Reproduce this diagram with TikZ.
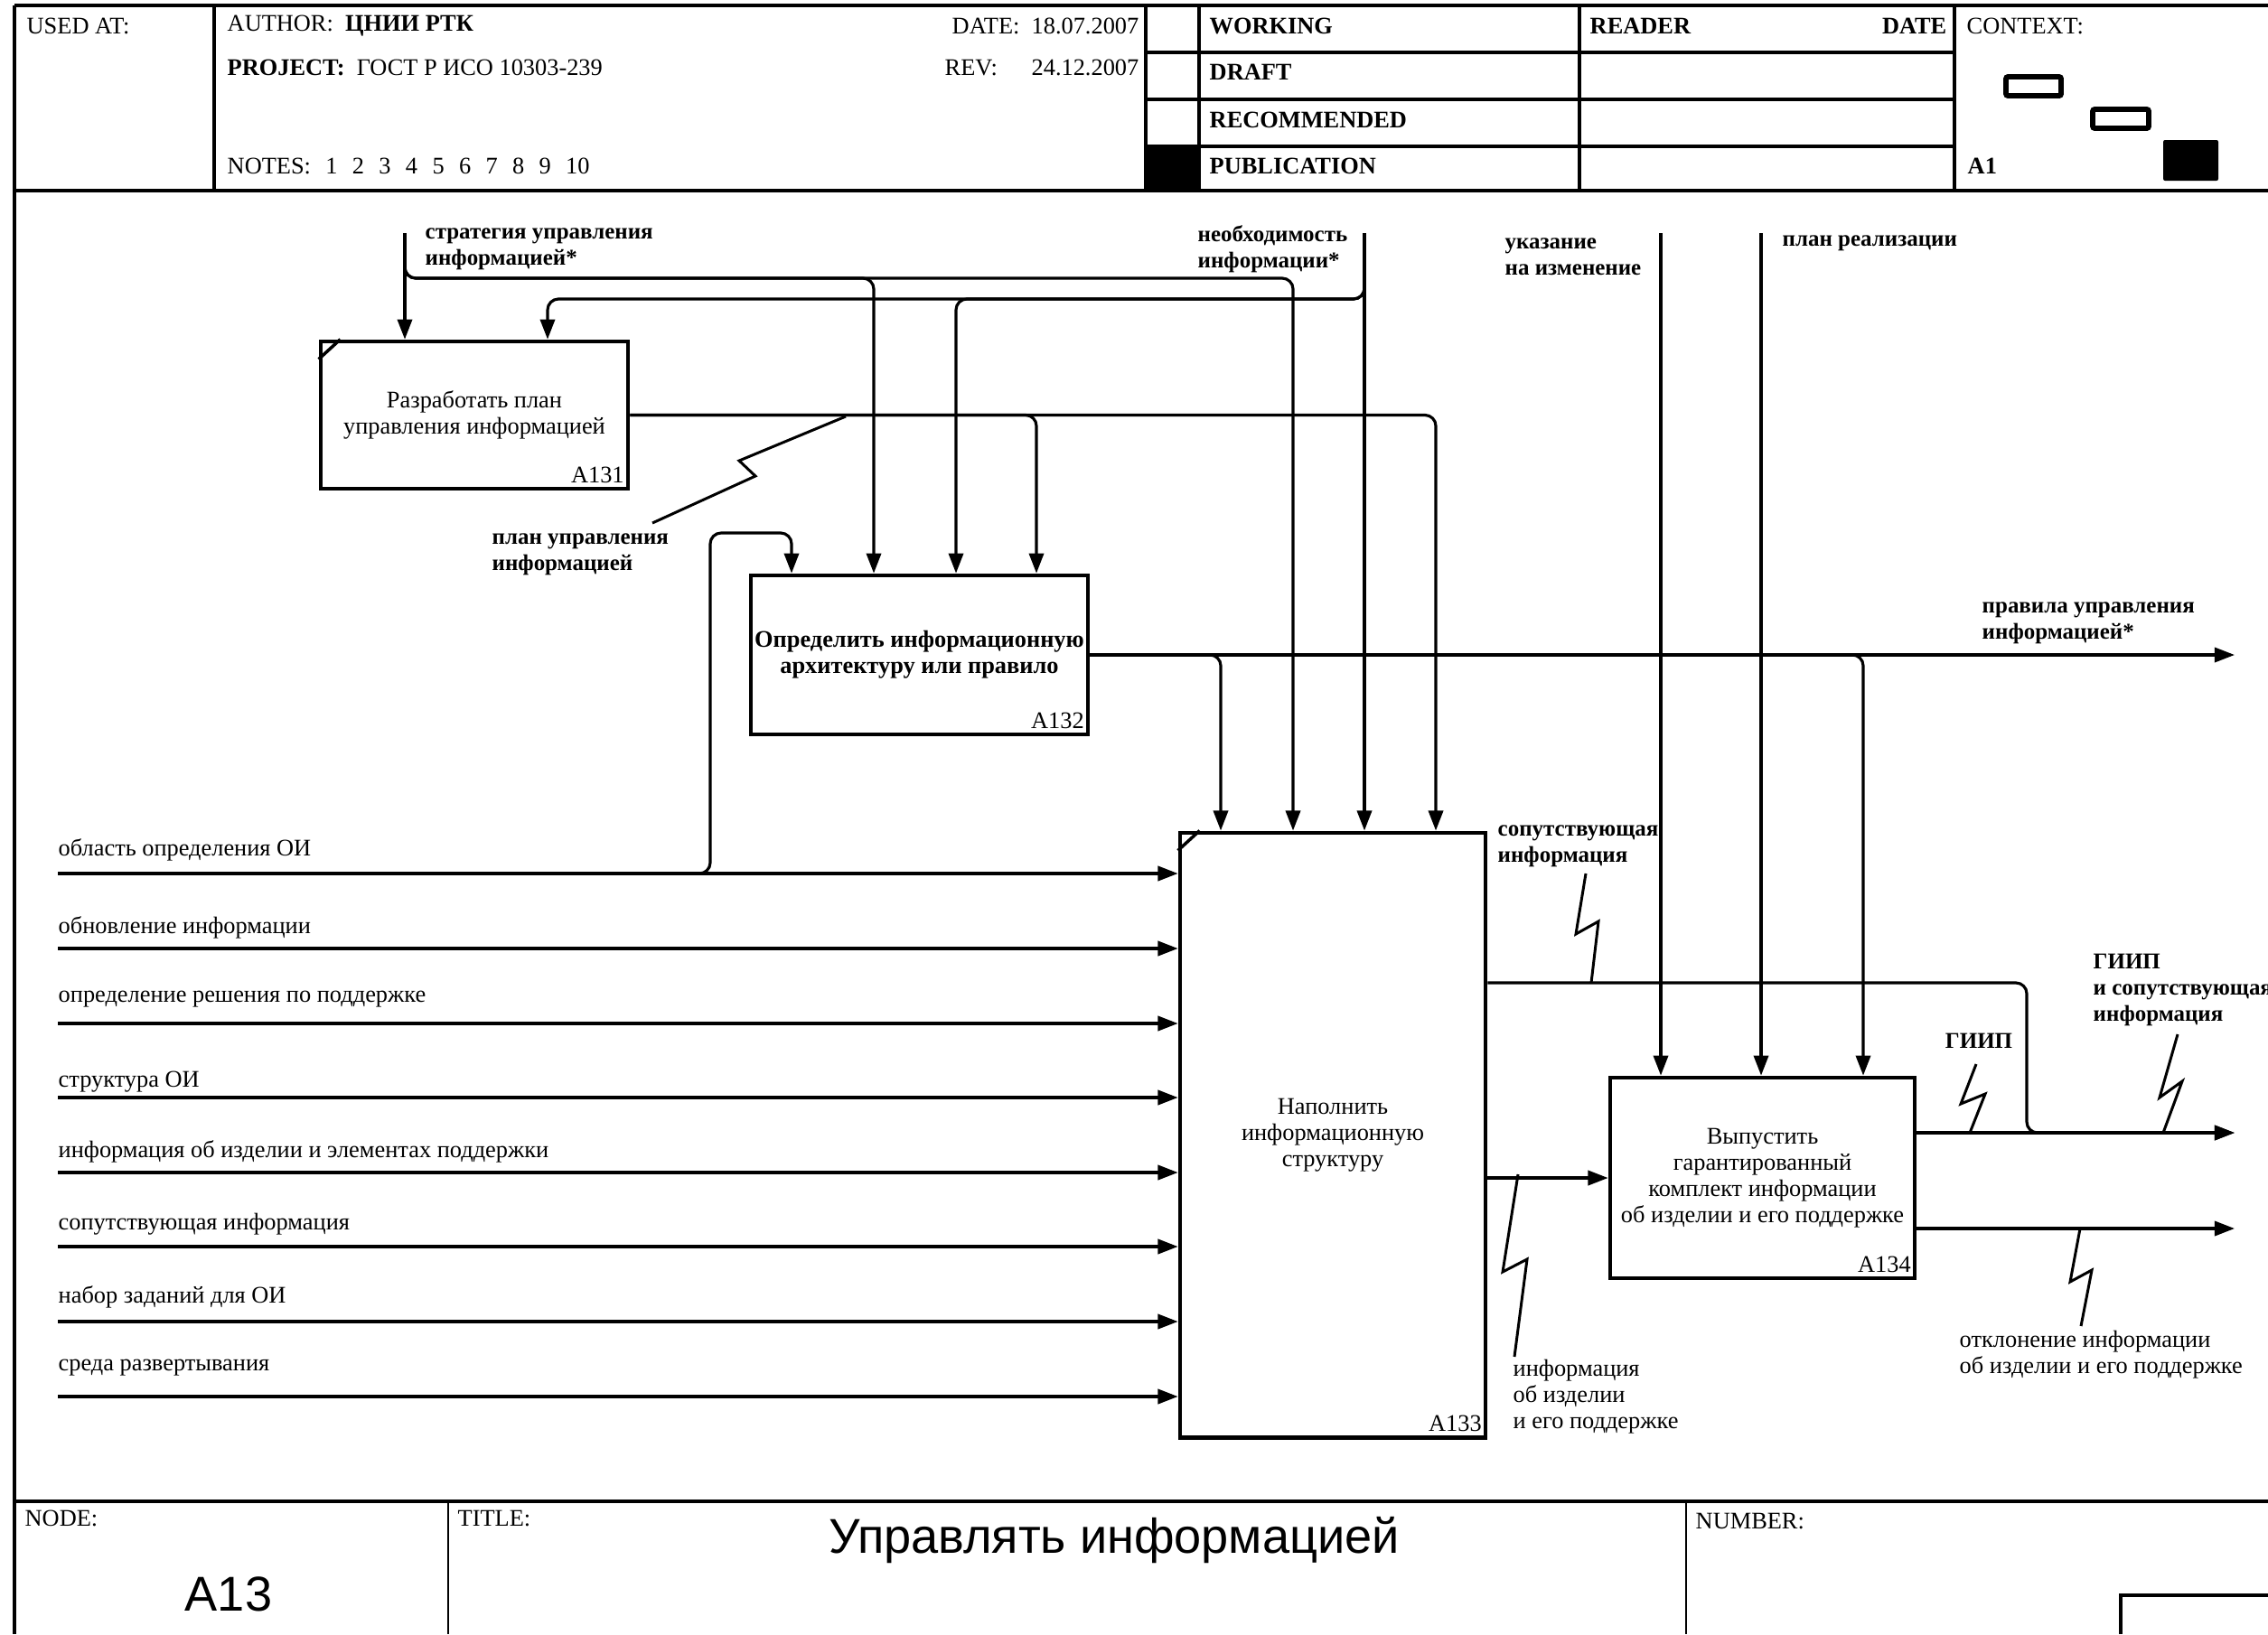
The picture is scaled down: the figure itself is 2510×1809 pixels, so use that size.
\documentclass[tikz,border=0pt]{standalone}
\usepackage{fontspec}
\setmainfont{Liberation Serif}
\newfontfamily\arialf{Liberation Sans}
\usetikzlibrary{arrows.meta}
\begin{document}
\begin{tikzpicture}[x=0.01cm,y=-0.01cm,
  frm/.style={line width=1.1pt},
  fline/.style={line width=0.8pt},
  conn/.style={line width=0.9pt, rounded corners=0.12cm},
  arr/.style={conn, -{Triangle[length=6.3pt,width=4.6pt]}},
  squig/.style={line width=0.85pt},
  box/.style={draw, line width=1.3pt, inner sep=0pt, align=center, font=\fontsize{7.5}{8.2}\selectfont},
  lab/.style={inner sep=0pt, align=left, font=\fontsize{7.5}{8.2}\selectfont},
  blab/.style={inner sep=0pt, align=left, font=\fontsize{7.1}{8.2}\selectfont\bfseries},
  hdr/.style={inner sep=0pt, font=\fontsize{7.5}{8}\selectfont},
  bhdr/.style={inner sep=0pt, font=\fontsize{7.5}{8}\selectfont\bfseries},
  bid/.style={inner sep=0pt, font=\fontsize{7.5}{8}\selectfont}
]
\useasboundingbox (0,0) rectangle (2510,1809);
\fill[white] (0,0) rectangle (2510,1809);

% ---------------- header frame
\draw[frm] (16,6) -- (2510,6);
\draw[frm] (16,6) -- (16,1809);
\draw[frm] (16,211) -- (2510,211);
\draw[frm] (237,6) -- (237,211);
\draw[frm] (1268,6) -- (1268,211);
\draw[frm] (1327,6) -- (1327,211);
\draw[frm] (1748,6) -- (1748,211);
\draw[frm] (2163,6) -- (2163,211);
\foreach \yy in {58,110,162} \draw[frm] (1268,\yy) -- (2163,\yy);
\fill (1268,162) rectangle (1327,211);

\node[hdr, anchor=west] (usedat) at (29,29) {USED AT:};
\node[hdr, anchor=west] (author) at (251,29) {AUTHOR:\ \ \textbf{ЦНИИ РТК}};
\node[hdr, anchor=west] (project) at (251,75) {\textbf{PROJECT:}\ \ ГОСТ Р ИСО 10303-239};
\node[hdr, anchor=west] (notes) at (251,184) {NOTES:\hspace{0.62em}1\hspace{0.62em}2\hspace{0.62em}3\hspace{0.62em}4\hspace{0.62em}5\hspace{0.62em}6\hspace{0.62em}7\hspace{0.62em}8\hspace{0.62em}9\hspace{0.62em}10};
\node[hdr, anchor=east] (date) at (1261,29) {DATE:\ \ 18.07.2007};
\node[hdr, anchor=west] (rev) at (1045,75) {REV:};
\node[hdr, anchor=east] (revd) at (1261,75) {24.12.2007};
\node[bhdr, anchor=west] (working) at (1338,29) {WORKING};
\node[bhdr, anchor=west] (draft) at (1338,80) {DRAFT};
\node[bhdr, anchor=west] (recom) at (1338,133) {RECOMMENDED};
\node[bhdr, anchor=west] (publ) at (1338,184) {PUBLICATION};
\node[bhdr, anchor=west] (reader) at (1759,29) {READER};
\node[bhdr, anchor=east] (rdate) at (2155,29) {DATE};
\node[hdr, anchor=west] (context) at (2176,29) {CONTEXT:};
\node[bhdr, anchor=west] (ctxa) at (2177,184) {A1};
\draw[line width=1.6pt, rounded corners=0.02cm] (2220,85) rectangle (2281,106);
\draw[line width=1.6pt, rounded corners=0.02cm] (2316,121) rectangle (2378,142);
\fill[rounded corners=0.02cm] (2394,155) rectangle (2455,200);

% ---------------- boxes
\node[box, minimum width=3.40cm, minimum height=1.63cm] (a131) at (525,459.5) {Разработать план\\управления информацией};
\node[box, minimum width=3.73cm, minimum height=1.76cm, font=\fontsize{7.5}{8.2}\selectfont\bfseries] (a132) at (1017.5,725) {Определить информационную\\архитектуру или правило};
\node[box, minimum width=3.38cm, minimum height=6.69cm] (a133) at (1475,1256.5) {Наполнить\\информационную\\структуру};
\node[box, minimum width=3.37cm, minimum height=2.22cm] (a134) at (1950.5,1304) {Выпустить\\гарантированный\\комплект информации\\об изделии и его поддержке};

\node[bid, anchor=south east] (id131) at ([shift={(-6,-8)}]a131.south east) {A131};
\node[bid, anchor=south east] (id132) at ([shift={(-6,-8)}]a132.south east) {A132};
\node[bid, anchor=south east] (id133) at ([shift={(-6,-8)}]a133.south east) {A133};
\node[bid, anchor=south east] (id134) at ([shift={(-6,-8)}]a134.south east) {A134};

\draw[line width=1pt] (a131.north west) ++(0,22) -- ++(24,-22);
\draw[line width=1pt] (a133.north west) ++(0,22) -- ++(24,-22);

% ---------------- helper coordinates
\coordinate (sTop) at (448,258);
\coordinate (nTop) at (1510,258);
\coordinate (uTop) at (1838,258);
\coordinate (pTop) at (1949,258);
\coordinate (hS) at (0,308);
\coordinate (hN) at (0,331);
\coordinate (hI) at (0,590);
\coordinate (hK) at (0,1088);
\coordinate (hO1) at (0,1254);
\coordinate (hO2) at (0,1360);
\coordinate (xA) at (967,0);
\coordinate (xB) at (1431,0);
\coordinate (xC) at (606,0);
\coordinate (xD) at (1058,0);
\coordinate (xE) at (1147,0);
\coordinate (xF) at (1589,0);
\coordinate (xG) at (1351,0);
\coordinate (xH) at (2062,0);
\coordinate (xI) at (786,0);
\coordinate (xJ) at (876,0);
\coordinate (xK) at (2243,0);
\coordinate (xR) at (2473,0);

% ---------------- controls
\draw[arr] (sTop) -- (sTop |- a131.north);
\draw[arr] (sTop) -- (sTop |- hS) -- (xA |- hS) -- (xA |- a132.north);
\draw[arr] (sTop) -- (sTop |- hS) -- (xB |- hS) -- (xB |- a133.north);

\draw[arr] (nTop) -- (nTop |- a133.north);
\draw[arr] (nTop) -- (nTop |- hN) -- (xC |- hN) -- (xC |- a131.north);
\draw[arr] (nTop) -- (nTop |- hN) -- (xD |- hN) -- (xD |- a132.north);

\draw[arr] (a131.east) -- (xF |- a131.east) -- (xF |- a133.north);
\draw[arr] (a131.east) -- (xE |- a131.east) -- (xE |- a132.north);

\draw[arr] (a132.east) -- (xR |- a132.east);
\draw[arr] (a132.east) -- (xG |- a132.east) -- (xG |- a133.north);
\draw[arr] (a132.east) -- (xH |- a132.east) -- (xH |- a134.north);

\draw[arr] (uTop) -- (uTop |- a134.north);
\draw[arr] (pTop) -- (pTop |- a134.north);

% ---------------- inputs
\coordinate (in1) at (64,967);
\coordinate (in2) at (64,1050);
\coordinate (in3) at (64,1133);
\coordinate (in4) at (64,1215);
\coordinate (in5) at (64,1298);
\coordinate (in6) at (64,1380);
\coordinate (in7) at (64,1463);
\coordinate (in8) at (64,1546);
\foreach \n in {1,...,8} \draw[arr] (in\n) -- (in\n -| a133.west);
\draw[arr] (in1) -- (xI |- in1) -- (xI |- hI) -- (xJ |- hI) -- (xJ |- a132.north);

\node[lab, anchor=west] (l1) at (64,941) {область определения ОИ};
\node[lab, anchor=west] (l2) at (64,1027) {обновление информации};
\node[lab, anchor=west] (l3) at (64,1106) {определение решения по поддержке};
\node[lab, anchor=west] (l4) at (64,1198) {структура ОИ};
\node[lab, anchor=west] (l5) at (64,1275) {информация об изделии и элементах поддержки};
\node[lab, anchor=west] (l6) at (64,1355) {сопутствующая информация};
\node[lab, anchor=west] (l7) at (64,1436) {набор заданий для ОИ};
\node[lab, anchor=west] (l8) at (64,1514) {среда развертывания};

% ---------------- outputs
\draw[arr] (a133.east |- hK) -- (xK |- hK) -- (xK |- hO1) -- (xR |- hO1);
\draw[arr] (a133.east |- a134.west) -- (a134.west);
\draw[arr] (a134.east |- hO1) -- (xR |- hO1);
\draw[arr] (a134.east |- hO2) -- (xR |- hO2);

% ---------------- squiggles
\draw[squig] (722,579) -- (836,527) -- (818,510) -- (936,461);
\draw[squig] (1755,967) -- (1744,1034) -- (1769,1020) -- (1761,1088);
\draw[squig] (1676,1502) -- (1690,1394) -- (1663,1408) -- (1680,1300);
\draw[squig] (2187,1178) -- (2170,1222) -- (2197,1211) -- (2180,1254);
\draw[squig] (2410,1145) -- (2390,1215) -- (2415,1197) -- (2394,1254);
\draw[squig] (2302,1360) -- (2291,1419) -- (2315,1406) -- (2303,1468);

% ---------------- labels
\node[blab, anchor=west] (lS) at (470,276) {стратегия управления\\информацией*};
\node[blab, anchor=west] (lN) at (1325,276) {необходимость\\информации*};
\node[blab, anchor=west] (lU) at (1665,284) {указание\\на изменение};
\node[blab, anchor=west] (lP) at (1972,269) {план реализации};
\node[blab, anchor=west] (lPl) at (544,614) {план управления\\информацией};
\node[blab, anchor=west] (lR) at (2193,690) {правила управления\\информацией*};
\node[blab, anchor=west] (lC) at (1657,937) {сопутствующая\\информация};
\node[blab] (lG) at (2190,1152) {ГИИП};
\node[blab, anchor=west] (lGs) at (2316,1096) {ГИИП\\и сопутствующая\\информация};
\node[lab, anchor=west] (lI) at (1674,1546) {информация\\об изделии\\и его поддержке};
\node[lab, anchor=west] (lO) at (2168,1500) {отклонение информации\\об изделии и его поддержке};

% ---------------- bottom frame
\draw[frm] (16,1662) -- (2510,1662);
\draw[fline] (496,1662) -- (496,1809);
\draw[fline] (1866,1662) -- (1866,1809);
\draw[frm] (2347,1809) -- (2347,1766) -- (2510,1766);
\node[hdr, anchor=west] (nodel) at (27,1681) {NODE:};
\node[hdr, anchor=west] (titlel) at (506,1681) {TITLE:};
\node[hdr, anchor=west] (numl) at (1876,1684) {NUMBER:};
\node[inner sep=0pt, anchor=base, font=\arialf\fontsize{15.4}{18}\selectfont] (nodeid) at (253,1783) {A13};
\node[inner sep=0pt, anchor=base, font=\arialf\fontsize{15.4}{18}\selectfont] (title) at (1233,1719) {Управлять информацией};
\end{tikzpicture}
\end{document}
